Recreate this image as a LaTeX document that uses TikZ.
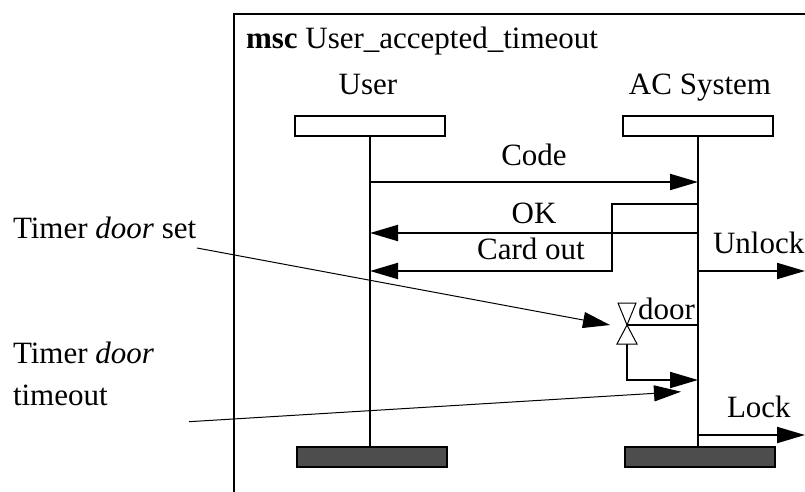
\documentclass[tikz,border=0pt]{standalone}
\usepackage{fontspec}
\setmainfont{Liberation Serif}
\usetikzlibrary{arrows.meta}
\definecolor{endgray}{HTML}{4D4D4D}
\begin{document}
\begin{tikzpicture}[x=1pt,y=-1pt,
  lbl/.style={font=\fontsize{31}{41.7}\selectfont, inner sep=0pt, outer sep=0pt},
  headbox/.style={draw, line width=2pt, minimum width=150pt, minimum height=20pt, inner sep=0pt, fill=white},
  endbox/.style={headbox, fill=endgray},
  life/.style={line width=2pt},
  msg/.style={line width=2pt, -{Triangle[length=28pt,width=16pt]}},
  note/.style={line width=1pt, -{Triangle[length=27pt,width=16pt]}},
  timer/.style={draw, line width=1pt, fill=white, line join=miter}
]
\useasboundingbox (0,0) rectangle (805,492);
% frame
\draw[life] (234,492) -- (234,14) -- (806,14);
\node[lbl, anchor=base west] (title) at (246,49) {\textbf{msc} User\_accepted\_timeout};
% instance heads
\node[lbl, anchor=base] (userlbl) at (368,95) {User};
\node[lbl, anchor=base] (aclbl) at (700,95) {AC System};
\node[headbox] (uh) at (370,126) {};
\node[headbox] (ah) at (698,126) {};
\node[endbox] (ue) at (372,457) {};
\node[endbox] (ae) at (700,457) {};
% lifelines
\draw[life] (uh.south) -- (uh.south |- ue.north);
\draw[life] (ah.south) -- (ah.south |- ae.north);
% coordinates on lifelines
\coordinate (uCode) at (370,182);
\coordinate (aCode) at (698,182);
\coordinate (aOK) at (698,233);
\coordinate (uOK) at (370,233);
\coordinate (aCard) at (698,204);
\coordinate (bend) at (612,271);
\coordinate (uCard) at (370,271);
\coordinate (aUnlock) at (698,271);
\coordinate (envUnlock) at (805,271);
\coordinate (tm) at (627,325);
\coordinate (aTimer) at (698,325);
\coordinate (tmb) at (627,344);
\coordinate (aTo) at (698,380);
\coordinate (aLock) at (698,435);
\coordinate (envLock) at (805,435);
% messages
\draw[msg] (uCode) -- (aCode);
\node[lbl, anchor=base] (codelbl) at (534,165) {Code};
\draw[msg] (aOK) -- (uOK);
\node[lbl, anchor=base] (oklbl) at (534,223) {OK};
\draw[msg] (aCard) -| (bend) -- (uCard);
\node[lbl, anchor=base] (cardlbl) at (531,259) {Card out};
\draw[msg] (aUnlock) -- (envUnlock);
\node[lbl, anchor=base west] (unlocklbl) at (713,253) {Unlock};
\draw[msg] (aLock) -- (envLock);
\node[lbl, anchor=base west] (locklbl) at (727,417) {Lock};
% timer
\draw[life] (tm) -- (aTimer);
\draw[msg] (tmb) |- (aTo);
\draw[timer] (618,303) -- (636,303) -- (tm) -- cycle;
\draw[timer] (tm) -- (617,344) -- (637,344) -- cycle;
\node[lbl, anchor=base west] (doorlbl) at (638,319) {door};
% annotations
\node[lbl, anchor=base west] (n1) at (13,238) {Timer \textit{door} set};
\coordinate (n1s) at (197,248);
\coordinate (n1t) at (610,325);
\draw[note] (n1s) -- (n1t);
\node[lbl, anchor=base west, align=left] (n2) at (13,405) {Timer \textit{door}\\timeout};
\coordinate (n2s) at (189,421.7);
\coordinate (n2t) at (681,391.7);
\draw[note] (n2s) -- (n2t);
\end{tikzpicture}
\end{document}
